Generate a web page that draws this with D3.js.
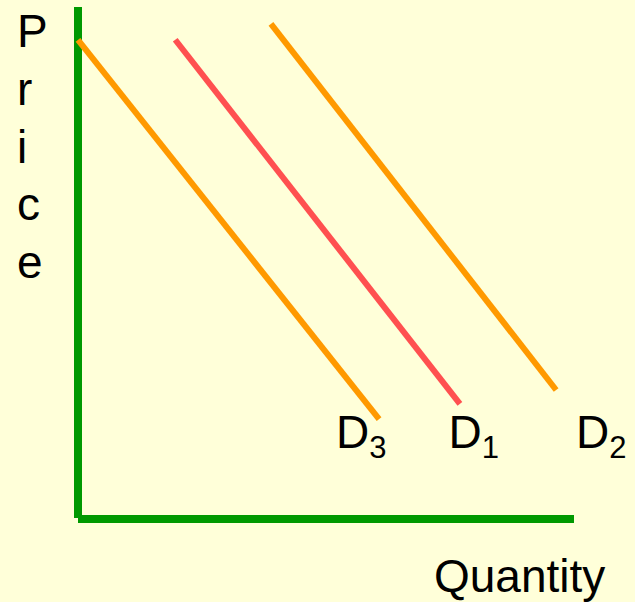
<!DOCTYPE html>
<html>
<head>
<meta charset="utf-8">
<script src="https://cdn.jsdelivr.net/npm/d3@7"></script>
<style>
  html, body { margin: 0; padding: 0; background: #FFFFD9; }
  svg { display: block; }
</style>
</head>
<body>
<div id="container"></div>
<script>
/* CONSTANTS AND GLOBALS */
const width = 635,
  height = 602;

// demand curves, in quantity / price units (0..10)
const curveNames = ["D3", "D1", "D2"];
const curveSub = ["3", "1", "2"];
const startQ = [0.0, 1.96, 3.89];
const startP = [9.36, 9.36, 9.67];
const endQ = [6.07, 7.70, 9.64];
const endP = [1.95, 2.25, 2.52];
const labelQ = [5.2, 7.47, 10.04];
const labelP = 1.39;
const curveColors = ["#FF9900", "#FF5050", "#FF9900"];

const yLetters = ["P", "r", "i", "c", "e"];
const xTitle = "Quantity";

const curves = curveNames.map((name, i) => ({
  name: name,
  sub: curveSub[i],
  q1: startQ[i], p1: startP[i],
  q2: endQ[i], p2: endP[i],
  lq: labelQ[i],
  color: curveColors[i]
}));

/* SCALES */
const xScale = d3.scaleLinear().domain([0, 10]).range([78, 574]);
const yScale = d3.scaleLinear().domain([0, 10]).range([519, 7]);

const svg = d3.select("#container")
  .append("svg")
  .attr("width", width)
  .attr("height", height);

svg.append("rect")
  .attr("width", width)
  .attr("height", height)
  .attr("fill", "#FFFFD9");

/* AXES */
svg.append("line")
  .attr("x1", xScale(0)).attr("x2", xScale(0))
  .attr("y1", yScale(10)).attr("y2", yScale(0) - 1)
  .attr("stroke", "#009900")
  .attr("stroke-width", 8);

svg.append("line")
  .attr("x1", xScale(0)).attr("x2", xScale(10))
  .attr("y1", yScale(0)).attr("y2", yScale(0))
  .attr("stroke", "#009900")
  .attr("stroke-width", 8);

/* DEMAND CURVES */
svg.selectAll(".curve")
  .data(curves)
  .join("line")
  .attr("class", "curve")
  .attr("x1", d => xScale(d.q1))
  .attr("y1", d => yScale(d.p1))
  .attr("x2", d => xScale(d.q2))
  .attr("y2", d => yScale(d.p2))
  .attr("stroke", d => d.color)
  .attr("stroke-width", 6);

const font = "'Liberation Sans', Arial, sans-serif";

const labels = svg.selectAll(".curve-label")
  .data(curves)
  .join("text")
  .attr("class", "curve-label")
  .attr("x", d => xScale(d.lq))
  .attr("y", yScale(labelP))
  .style("font-family", font)
  .style("font-size", "46px")
  .attr("fill", "#000");

labels.append("tspan").text("D");
labels.append("tspan")
  .attr("dy", 10)
  .style("font-size", "31px")
  .text(d => d.sub);

/* AXIS TITLES */
svg.selectAll(".y-letter")
  .data(yLetters)
  .join("text")
  .attr("class", "y-letter")
  .attr("x", 17)
  .attr("y", (d, i) => 47 + i * 57.8)
  .style("font-family", font)
  .style("font-size", "46px")
  .attr("fill", "#000")
  .text(d => d);

svg.append("text")
  .attr("x", 434)
  .attr("y", 592)
  .style("font-family", font)
  .style("font-size", "46px")
  .attr("fill", "#000")
  .text(xTitle);
</script>
</body>
</html>
